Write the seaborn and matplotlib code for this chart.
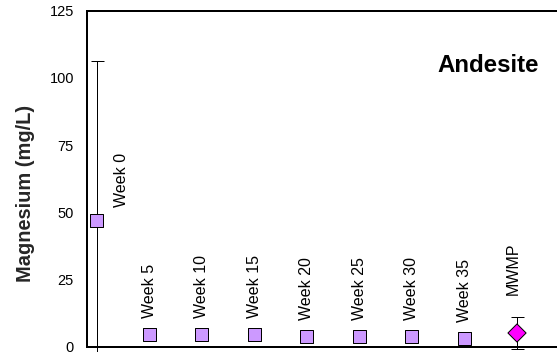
import numpy as np
import pandas as pd
import matplotlib
matplotlib.use("Agg")
import matplotlib.pyplot as plt
import seaborn as sns

# Magnesium concentrations (mg/L) with error-bar half-widths
labels = ["Week 0", "Week 5", "Week 10", "Week 15", "Week 20",
          "Week 25", "Week 30", "Week 35", "MWMP"]
magnesium = [46.9, 4.8, 4.8, 4.5, 3.8, 3.8, 3.8, 3.2, 5.2]
error = [59.5, 0, 0, 0, 0, 0, 0, 0, 6.1]
kind = ["Week"] * 8 + ["MWMP"]
y_ticks = [0, 25, 50, 75, 100, 125]

sns.set_theme(style="white")
plt.rcParams["font.family"] = ["Liberation Sans", "DejaVu Sans"]

df = pd.DataFrame({
    "pos": np.arange(len(labels)),
    "mg": magnesium,
    "err": error,
    "kind": kind,
    "label": labels,
})

W, H = 557, 352
fig = plt.figure(figsize=(W / 72, H / 72), dpi=72)
ax = fig.add_axes([87 / W, 5 / H, 513 / W, 336.5 / H])

# error bars (drawn unclipped so they may run past the frame)
with_err = df[df.err > 0]
eb = ax.errorbar(with_err.pos, with_err.mg, yerr=with_err.err, fmt="none",
                 ecolor="black", elinewidth=1, capsize=6.5, capthick=1, zorder=2)
for art in eb.get_children():
    art.set_clip_on(False)

sns.scatterplot(data=df, x="pos", y="mg", hue="kind", style="kind", size="kind",
                palette={"Week": "#CC99FF", "MWMP": "#FF00FF"},
                markers={"Week": "s", "MWMP": "D"},
                sizes={"Week": 170, "MWMP": 165},
                edgecolor="black", linewidth=1, legend=False, zorder=3, ax=ax)

# vertical data labels above each point
offsets = {"Week 0": (25, 14), "MWMP": (-4, 38)}
for _, row in df.iterrows():
    dx, dy = offsets.get(row.label, (0, 16.5))
    ax.annotate(row.label, (row.pos, row.mg), xytext=(dx, dy),
                textcoords="offset points", rotation=90,
                ha="center", va="bottom", fontsize=16, color="black")

ax.set_xlim(-0.187, 9.58)
ax.set_ylim(0, 125)
ax.set_yticks(y_ticks)
ax.set_xticks([])
ax.set_xlabel("")
ax.tick_params(axis="y", length=0, pad=13, labelsize=14.5, colors="black")
ax.set_ylabel("Magnesium (mg/L)", fontsize=20, fontweight="bold", va="center")
ax.yaxis.set_label_coords((25.5 - 87) / 513, (347 - 193.5) / 336.5)

for side in ["left", "top", "bottom"]:
    ax.spines[side].set_visible(True)
    ax.spines[side].set_color("black")
    ax.spines[side].set_linewidth(2)
ax.spines["right"].set_visible(False)

fig.text(488 / W, 1 - 72 / H, "Andesite", ha="center", va="baseline",
         fontsize=24, fontweight="bold", color="black")

fig.savefig("out.png", dpi=72, facecolor="white")
